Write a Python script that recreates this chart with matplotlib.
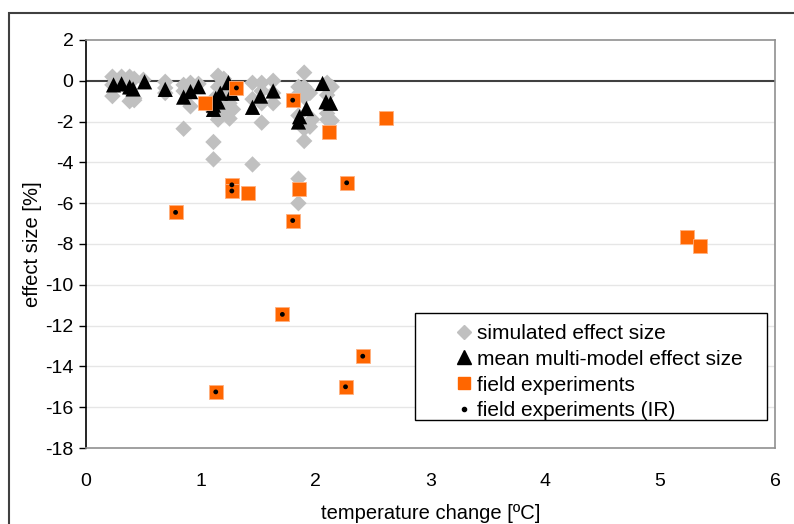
import matplotlib
matplotlib.use("Agg")
import matplotlib.pyplot as plt
from matplotlib.patches import Rectangle
from matplotlib.lines import Line2D

plt.rcParams['font.family'] = ['Liberation Sans', 'DejaVu Sans']
plt.rcParams['axes.unicode_minus'] = False

# simulated effect size (grey diamonds)
sim_x = [0.23, 0.23, 0.23, 0.31, 0.31, 0.38, 0.38, 0.38, 0.42, 0.42, 0.42, 0.50,
         0.69, 0.69, 0.69, 0.85, 0.85, 0.85, 0.91, 0.91, 0.91, 0.98,
         1.11, 1.11, 1.11, 1.11, 1.15, 1.15, 1.15, 1.15, 1.20, 1.20, 1.20,
         1.25, 1.25, 1.25, 1.28, 1.28,
         1.45, 1.45, 1.45, 1.53, 1.53, 1.53, 1.53, 1.63, 1.63, 1.63,
         1.85, 1.85, 1.85, 1.85, 1.85, 1.90, 1.90, 1.90, 1.90, 1.90,
         1.95, 1.95, 1.97, 2.10, 2.10, 2.10, 2.10, 2.14, 2.14]
sim_y = [0.2, -0.2, -0.75, 0.2, -0.1, 0.2, -0.5, -1.0, 0.1, -0.85, -0.95, 0.05,
         -0.05, -0.35, -0.6, -0.2, -0.5, -2.35, -0.1, -0.4, -1.25, -0.15,
         -3.0, -3.85, -1.5, -0.9, 0.25, -0.3, -1.9, -1.3, 0.1, -1.6, -0.7,
         -1.85, -1.1, -0.3, -1.4, -0.5,
         -0.1, -4.1, -0.9, -0.1, -2.05, -0.5, -1.1, 0.0, -1.1, -0.6,
         -0.3, -0.65, -4.8, -6.0, -1.7, 0.4, -0.3, -2.35, -2.95, -0.8,
         -0.6, -2.25, -1.9, -0.1, -0.7, -1.6, -1.9, -0.3, -1.95]

# mean multi-model effect size (black triangles)
mean_x = [0.24, 0.31, 0.38, 0.41, 0.51, 0.69, 0.85, 0.91, 0.98, 1.11, 1.11, 1.13,
          1.15, 1.17, 1.24, 1.27, 1.45, 1.52, 1.63, 1.85, 1.86, 1.92, 2.06, 2.09, 2.13]
mean_y = [-0.2, -0.15, -0.3, -0.4, -0.05, -0.42, -0.8, -0.53, -0.29, -1.19, -1.4, -0.86,
          -1.04, -0.61, -0.09, -0.61, -1.3, -0.75, -0.5, -2.02, -1.76, -1.36, -0.13, -1.03, -1.1]

# field experiments (orange squares); IR flag marks infrared-heating experiments
field_x = [1.04, 1.31, 1.80, 2.12, 2.61, 0.78, 1.27, 1.27, 1.41, 1.855, 1.80, 2.27,
           1.71, 2.41, 2.26, 1.13, 5.23, 5.35]
field_y = [-1.09, -0.35, -0.95, -2.5, -1.82, -6.45, -5.1, -5.4, -5.5, -5.3, -6.85, -5.0,
           -11.45, -13.5, -15.0, -15.25, -7.65, -8.08]
field_ir = [False, True, True, False, False, True, True, True, False, False, True, True,
            True, True, True, True, False, False]

y_ticks = list(range(-18, 3, 2))
x_ticks = list(range(0, 7))

W, H = 794, 524
fig = plt.figure(figsize=(W / 100, H / 100), dpi=100)
ax = fig.add_axes([86 / W, 1 - 448 / H, (775 - 86) / W, (448 - 40) / H])

# outer chart border
fig.patches.append(Rectangle((9 / W, -0.1), 1.2, 1 - 13 / H + 0.1, transform=fig.transFigure,
                             fill=False, edgecolor='#404040', linewidth=1.5, zorder=0))

ax.set_xlim(0, 6)
ax.set_ylim(-18, 2)
for yv in y_ticks:
    if -18 < yv < 2 and yv != 0:
        ax.axhline(yv, color='#e6e6e6', linewidth=1.0, zorder=0)
ax.axhline(0, color='#404040', linewidth=1.5, zorder=1)

ax.scatter(sim_x, sim_y, marker='D', s=70, color='#c0c0c0', edgecolors='none', zorder=2)
ax.scatter(mean_x, mean_y, marker='^', s=120, color='black', edgecolors='none', zorder=3)
ax.scatter(field_x, field_y, marker='s', s=115, color='#ff6600', edgecolors='#ffb080',
           linewidths=0.6, zorder=4)
ir_x = [x for x, f in zip(field_x, field_ir) if f]
ir_y = [y for y, f in zip(field_y, field_ir) if f]
ax.scatter(ir_x, ir_y, marker='o', s=12, color='black', edgecolors='none', zorder=5)

ax.set_xticks(x_ticks)
ax.set_yticks(y_ticks)
ax.tick_params(axis='x', length=0, pad=18, labelsize=14)
ax.tick_params(axis='y', length=5, width=1, direction='out', pad=4, labelsize=14)
ax.spines['left'].set_color('black')
ax.spines['left'].set_linewidth(1.2)
for s in ['top', 'right', 'bottom']:
    ax.spines[s].set_color('#909090')
    ax.spines[s].set_linewidth(1.2)

ax.set_xlabel('temperature change [ºC]', fontsize=14.5, labelpad=10)
ax.set_ylabel('effect size [%]', fontsize=14.5, labelpad=2)

# legend box
ax.add_patch(Rectangle((0.4775, 0.069), 0.5105, 0.262, transform=ax.transAxes,
                       facecolor='white', edgecolor='black', linewidth=1.0, zorder=6))
handles = [
    Line2D([], [], linestyle='none', marker='D', markersize=7, color='#c0c0c0'),
    Line2D([], [], linestyle='none', marker='^', markersize=10, color='black'),
    Line2D([], [], linestyle='none', marker='s', markersize=9, color='#ff6600'),
    Line2D([], [], linestyle='none', marker='o', markersize=3, color='black'),
]
labels = ['simulated effect size', 'mean multi-model effect size',
          'field experiments', 'field experiments (IR)']
leg = ax.legend(handles, labels, loc='upper left', bbox_to_anchor=(0.516, 0.34),
                frameon=False, fontsize=15, handlelength=0.8, handletextpad=0.2,
                labelspacing=0.33, borderpad=0.2)
leg.set_zorder(7)

fig.savefig('out.png', dpi=100)
